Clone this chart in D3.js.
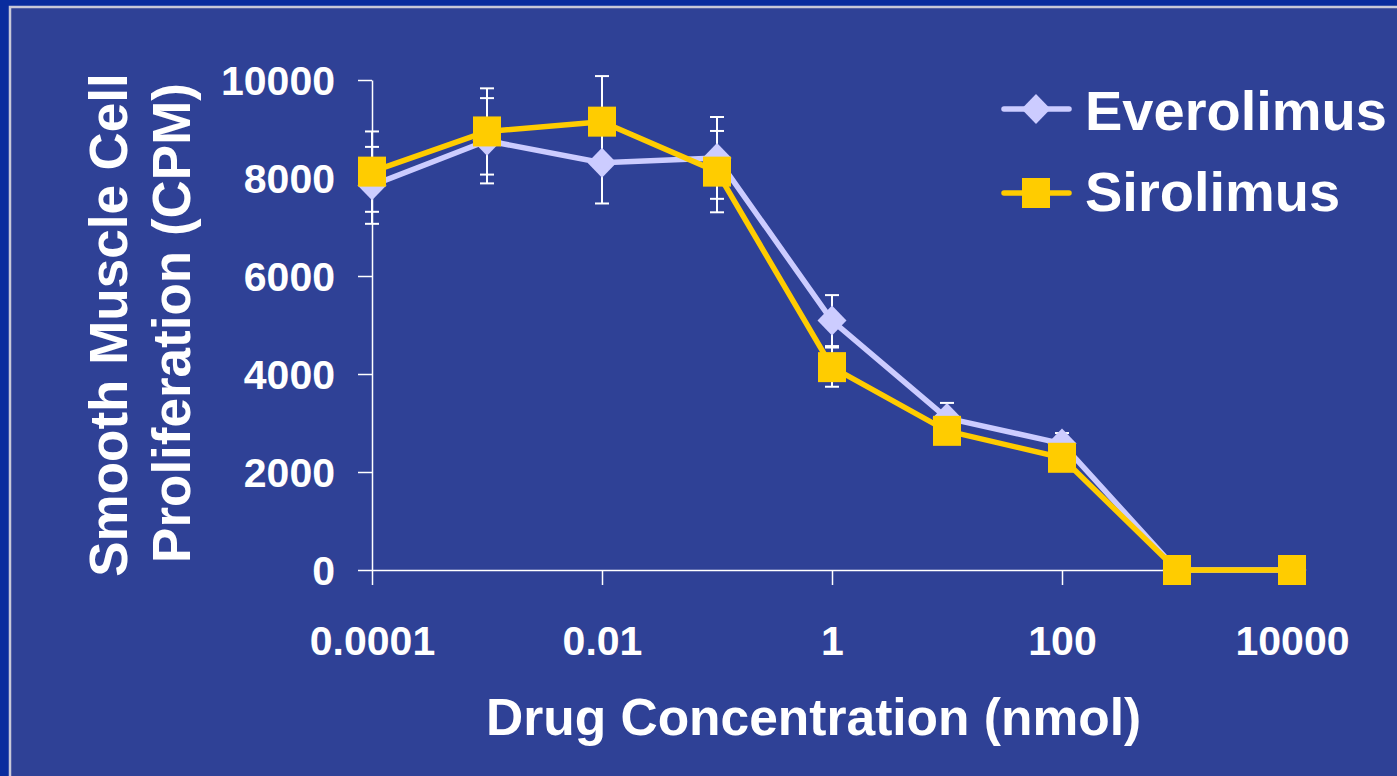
<!DOCTYPE html>
<html>
<head>
<meta charset="utf-8">
<script src="https://cdn.jsdelivr.net/npm/d3@7"></script>
<style>
  body { margin: 0; background: #0a2c9e; }
  svg { display: block; }
  text { font-family: "Liberation Sans", Arial, sans-serif; font-weight: bold; fill: #fff; }
</style>
</head>
<body>
<div id="chart"></div>
<script>
// drug concentration (nmol) on a log axis
const concentrations = [0.0001, 0.001, 0.01, 0.1, 1, 10, 100, 1000, 10000];
const xTickValues = [0.0001, 0.01, 1, 100, 10000];
const xTickLabels = ["0.0001", "0.01", "1", "100", "10000"];
const yTickValues = [0, 2000, 4000, 6000, 8000, 10000];

// proliferation (CPM) with error bars
const everolimus = [7850, 8760, 8310, 8410, 5090, 3100, 2580, 0, 0];
const everolimusErr = [785, 870, 830, 835, 520, 310, 215, 0, 0];
const sirolimus = [8130, 8950, 9150, 8130, 4140, 2840, 2290, 0, 0];
const sirolimusErr = [820, 880, 930, 830, 400, 200, 150, 0, 0];

const seriesNames = ["Everolimus", "Sirolimus"];
const seriesColors = ["#ccccff", "#ffcc00"];

const W = 1397, H = 776;

const svg = d3.select("#chart").append("svg")
    .attr("width", W)
    .attr("height", H);

// slide frame
svg.append("rect").attr("width", W).attr("height", H).attr("fill", "#0a2c9e");
svg.append("rect")
    .attr("x", 10).attr("y", 7)
    .attr("width", W).attr("height", H)
    .attr("fill", "#2f4196")
    .attr("stroke", "#c8c8d8")
    .attr("stroke-width", 2.5);

// scales
const x = d3.scaleLog().domain([0.0001, 10000]).range([372, 1292]);
const y = d3.scaleLinear().domain([0, 10000]).range([570, 80]);

// axes
const yAxis = svg.append("g")
    .attr("transform", `translate(${x.range()[0]},0)`)
    .call(d3.axisLeft(y).tickValues(yTickValues).tickSize(14).tickSizeOuter(0).tickPadding(23).tickFormat(d3.format("d")));

const xAxis = svg.append("g")
    .attr("transform", `translate(0,${y(0)})`)
    .call(d3.axisBottom(x).tickValues(xTickValues).tickSize(15).tickSizeOuter(0)
        .tickFormat((d, i) => xTickLabels[i]));

[xAxis, yAxis].forEach(g => {
    g.select(".domain").attr("stroke", "#fff").attr("stroke-width", 1.5);
    g.selectAll(".tick line").attr("stroke", "#fff").attr("stroke-width", 1.5);
    g.selectAll(".tick text").attr("fill", "#fff").attr("font-size", 41);
});
yAxis.selectAll(".tick text").attr("dy", "0.36em");
xAxis.selectAll(".tick text").attr("dy", null).attr("y", 85);

// axis titles
svg.append("text")
    .attr("transform", "translate(127,325) rotate(-90)")
    .attr("text-anchor", "middle")
    .attr("font-size", 53)
    .text("Smooth Muscle Cell");
svg.append("text")
    .attr("transform", "translate(190,323) rotate(-90)")
    .attr("text-anchor", "middle")
    .attr("font-size", 53)
    .text("Proliferation (CPM)");
svg.append("text")
    .attr("x", 486).attr("y", 735)
    .attr("font-size", 51.5)
    .text("Drug Concentration (nmol)");

// build series rows
const series = [
    { name: seriesNames[0], color: seriesColors[0], values: everolimus, errs: everolimusErr, shape: "diamond" },
    { name: seriesNames[1], color: seriesColors[1], values: sirolimus, errs: sirolimusErr, shape: "square" }
].map(s => ({ ...s, points: concentrations.map((c, i) => ({ c, v: s.values[i], e: s.errs[i] })) }));

// error bars under everything
const errG = svg.append("g");
series.forEach(s => {
    const eb = errG.selectAll(null).data(s.points.filter(p => p.e > 0)).enter().append("g")
        .attr("stroke", "#fff").attr("stroke-width", 2);
    eb.append("line")
        .attr("x1", p => x(p.c)).attr("x2", p => x(p.c))
        .attr("y1", p => y(p.v + p.e)).attr("y2", p => y(p.v - p.e));
    eb.append("line")
        .attr("x1", p => x(p.c) - 7).attr("x2", p => x(p.c) + 7)
        .attr("y1", p => y(p.v + p.e)).attr("y2", p => y(p.v + p.e));
    eb.append("line")
        .attr("x1", p => x(p.c) - 7).attr("x2", p => x(p.c) + 7)
        .attr("y1", p => y(p.v - p.e)).attr("y2", p => y(p.v - p.e));
});

const line = d3.line().x(p => x(p.c)).y(p => y(p.v));

function marker(sel, shape, color) {
    if (shape === "diamond") {
        sel.append("path")
            .attr("d", "M0,-15L14.5,0L0,15L-14.5,0Z")
            .attr("fill", color);
    } else {
        sel.append("rect")
            .attr("x", -14).attr("y", -15)
            .attr("width", 28).attr("height", 30)
            .attr("fill", color);
    }
}

series.forEach(s => {
    svg.append("path")
        .datum(s.points)
        .attr("d", line)
        .attr("fill", "none")
        .attr("stroke", s.color)
        .attr("stroke-width", 5.5)
        .attr("stroke-linejoin", "round");
    svg.append("g").selectAll(null).data(s.points).enter().append("g")
        .attr("transform", p => `translate(${x(p.c)},${y(p.v)})`)
        .each(function () { marker(d3.select(this), s.shape, s.color); });
});

// legend
const legend = svg.append("g");
series.forEach((s, i) => {
    const ly = [109, 193][i];
    const row = legend.append("g").attr("transform", `translate(0,${ly})`);
    row.append("line")
        .attr("x1", 1004).attr("x2", 1069)
        .attr("stroke", s.color).attr("stroke-width", 5.5).attr("stroke-linecap", "round");
    const m = row.append("g").attr("transform", "translate(1036,0)");
    marker(m, s.shape, s.color);
    row.append("text")
        .attr("x", 1085).attr("y", [21, 18][i])
        .attr("font-size", 56)
        .text(s.name);
});
</script>
</body>
</html>
